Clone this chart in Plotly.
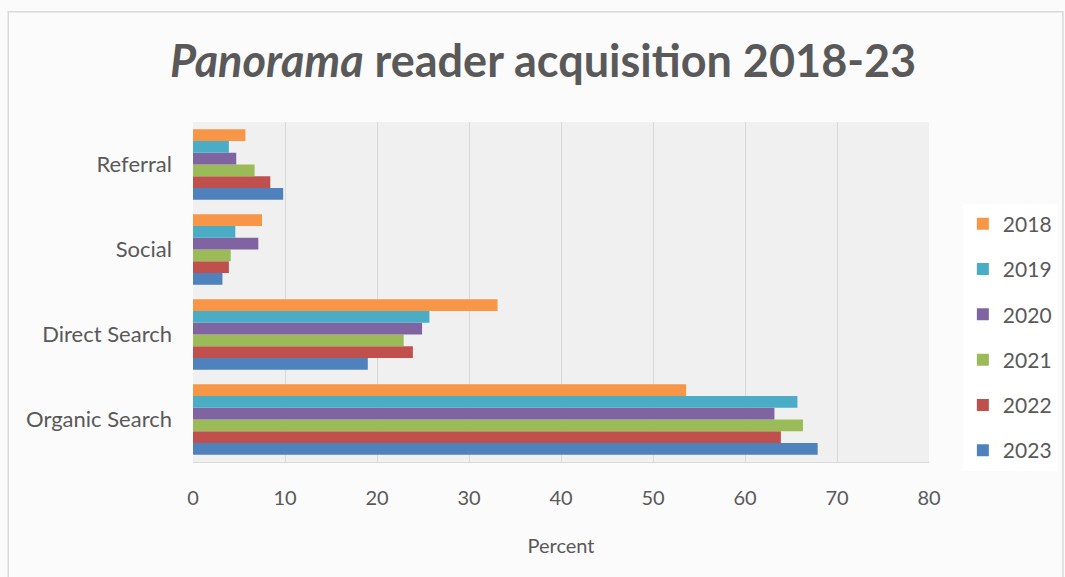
import plotly.graph_objects as go

categories = ["Organic Search", "Direct Search", "Social", "Referral"]
years = ["2018", "2019", "2020", "2021", "2022", "2023"]
values = {
    "2018": [53.6, 33.1, 7.5, 5.7],
    "2019": [65.7, 25.7, 4.6, 3.9],
    "2020": [63.2, 24.9, 7.1, 4.7],
    "2021": [66.3, 22.9, 4.1, 6.7],
    "2022": [63.9, 23.9, 3.9, 8.4],
    "2023": [67.9, 19.0, 3.2, 9.8],
}
colors = {
    "2018": "#F79646",
    "2019": "#4BACC6",
    "2020": "#8064A2",
    "2021": "#9BBB59",
    "2022": "#C0504D",
    "2023": "#4F81BD",
}
x_ticks = [0, 10, 20, 30, 40, 50, 60, 70, 80]

FONT = "Lato"
GREY = "#595959"

fig = go.Figure()
for y in reversed(years):
    fig.add_trace(go.Bar(
        y=categories, x=values[y], name=y, orientation="h",
        marker=dict(color=colors[y], line=dict(width=0)),
        legendgroup=y, legendrank=years.index(y) + 1,
    ))

fig.update_layout(
    width=1065, height=577,
    margin=dict(l=193, r=136, t=122, b=115, autoexpand=False),
    paper_bgcolor="#fbfbfb",
    plot_bgcolor="#f0f0f0",
    barmode="group", bargap=0.17, bargroupgap=0,
    title=dict(text="<b><i>Panorama</i> reader acquisition 2018-23</b>",
               x=0.51, xanchor="center", y=0.893, yanchor="middle",
               font=dict(family=FONT, size=45, color=GREY)),
    font=dict(family=FONT, color=GREY),
    legend=dict(x=1.046, xanchor="left", y=0.76, yanchor="top",
                font=dict(size=21, color=GREY), tracegroupgap=15,
                bgcolor="#ffffff", itemwidth=30),
    xaxis=dict(range=[0, 80], tickvals=x_ticks, showgrid=True,
               gridcolor="#d9d9d9", gridwidth=1, zeroline=False,
               showline=True, linecolor="#d9d9d9",
               tickfont=dict(size=20, color=GREY), ticks="", ticklabelstandoff=18,
               title=dict(text="Percent", font=dict(size=20, color=GREY), standoff=30)),
    yaxis=dict(categoryorder="array", categoryarray=categories,
               tickfont=dict(size=22, color=GREY), ticks="", ticklabelstandoff=20,
               showgrid=False, zeroline=False),
    shapes=[dict(type="rect", xref="paper", yref="paper",
                 x0=-0.251, x1=1.182, y0=-0.40, y1=1.324,
                 line=dict(color="#d9d9d9", width=1.5), layer="below")],
)

fig.write_html("out.html", config={"displayModeBar": False},
               post_script="document.body.style.margin='0';")
